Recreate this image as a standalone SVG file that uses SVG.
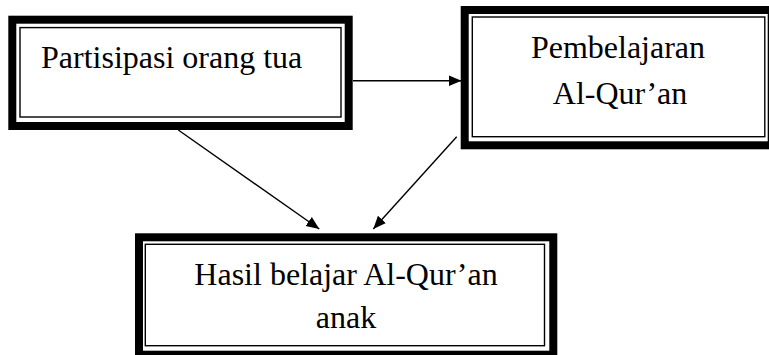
<svg xmlns="http://www.w3.org/2000/svg" width="769" height="355" viewBox="0 0 769 355">
<style>
.outer{fill:none;stroke:#000;stroke-width:8}
.inner{fill:none;stroke:#000;stroke-width:1.4}
.t{font-family:'Liberation Serif','Times New Roman',Tinos,'DejaVu Serif',serif;font-size:32px;fill:#000}
.c{text-anchor:middle}
.conn{stroke:#000;stroke-width:1.4;fill:none}
</style>
<defs>
<marker id="ah" markerUnits="userSpaceOnUse" markerWidth="14" markerHeight="12" refX="13" refY="6" orient="auto">
<path d="M0,0.5 L13,6 L0,11.5 Z" fill="#000"/>
</marker>
</defs>
<rect width="769" height="355" fill="#fff"/>
<g id="connectors">
<line class="conn" x1="353" y1="80.7" x2="461.5" y2="80.7" marker-end="url(#ah)"/>
<line class="conn" x1="178.3" y1="130" x2="319.3" y2="229" marker-end="url(#ah)"/>
<line class="conn" x1="456.7" y1="136.7" x2="373.3" y2="229" marker-end="url(#ah)"/>
</g>
<g id="node-partisipasi">
<rect class="outer" x="12.3" y="19.7" width="336.4" height="106.3"/>
<rect class="inner" x="20" y="27.6" width="321" height="89.4"/>
<text class="t" x="41" y="68" font-family="Liberation Serif, serif">Partisipasi orang tua</text>
</g>
<g id="node-pembelajaran">
<rect class="outer" x="464.7" y="10" width="307" height="135.3"/>
<rect class="inner" x="472.3" y="17" width="292.5" height="119.7"/>
<text class="t c" x="618" y="58">Pembelajaran</text>
<text class="t c" x="620" y="104">Al-Qur’an</text>
</g>
<g id="node-hasil">
<rect class="outer" x="139" y="237.3" width="414.3" height="117.4"/>
<rect class="inner" x="145.3" y="244.3" width="399.2" height="101.4"/>
<text class="t c" x="346" y="285">Hasil belajar Al-Qur’an</text>
<text class="t c" x="346" y="328">anak</text>
</g>
</svg>
